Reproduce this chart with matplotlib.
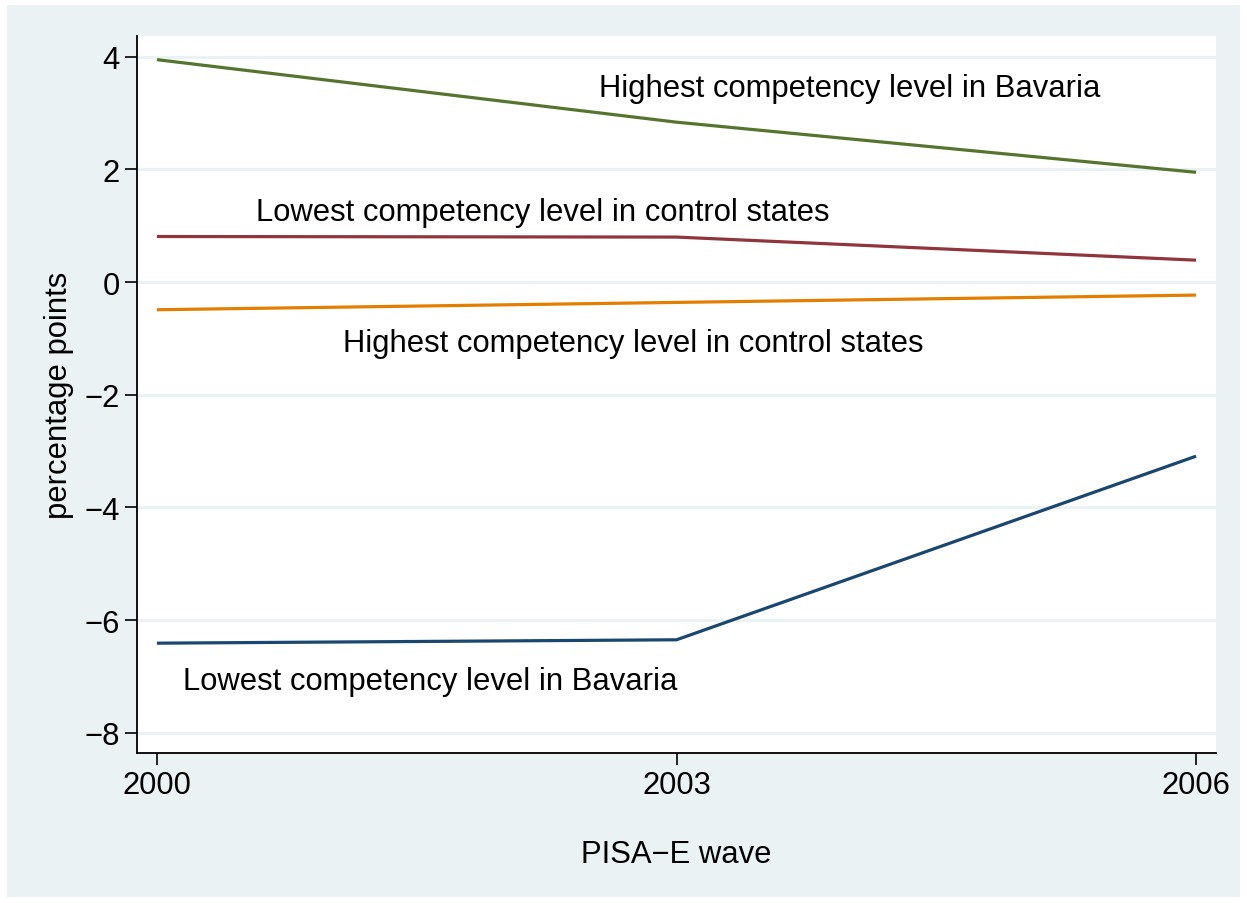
import matplotlib
matplotlib.use("Agg")
import matplotlib.pyplot as plt
from matplotlib.patches import Rectangle

plt.rcParams['font.family'] = ['Liberation Sans', 'DejaVu Sans']

years = [2000, 2003, 2006]
high_bavaria = [3.95, 2.84, 1.95]
low_control = [0.81, 0.80, 0.39]
high_control = [-0.49, -0.36, -0.23]
low_bavaria = [-6.41, -6.35, -3.09]

yticks = [4, 2, 0, -2, -4, -6, -8]
ytick_labels = ['4', '2', '0', '\u22122', '\u22124', '\u22126', '\u22128']

labels = {
    'high_bavaria': ("Highest competency level in Bavaria", 2004.0, 3.44),
    'low_control': ("Lowest competency level in control states", 2002.23, 1.24),
    'high_control': ("Highest competency level in control states", 2002.75, -1.08),
    'low_bavaria': ("Lowest competency level in Bavaria", 2001.58, -7.09),
}

FS = 22.3
W, H = 1247, 904
fig = plt.figure(figsize=(W / 100, H / 100), dpi=100, facecolor='white')
bg = '#EAF2F3'
fig.patches.append(Rectangle((7 / W, 6 / H), (1240 - 7) / W, (898 - 6) / H,
                             transform=fig.transFigure, facecolor=bg,
                             edgecolor='none', zorder=-10))

left, right, top, bottom = 137, 1216, 37, 754
ax = fig.add_axes([left / W, 1 - bottom / H, (right - left) / W, (bottom - top) / H])
ax.set_facecolor('white')

ax.plot(years, high_bavaria, color='#55752f', lw=2.3, solid_capstyle='butt', zorder=3)
ax.plot(years, low_control, color='#90353b', lw=2.3, solid_capstyle='butt', zorder=3)
ax.plot(years, high_control, color='#e37e00', lw=2.3, solid_capstyle='butt', zorder=3)
ax.plot(years, low_bavaria, color='#1a476f', lw=2.3, solid_capstyle='butt', zorder=3)

for key, (txt, x, y) in labels.items():
    ax.text(x, y, txt, ha='center', va='center', fontsize=FS, color='black')

ax.set_xlim(1999.885, 2006.115)
ax.set_ylim(-8.36, 4.37)
ax.set_xticks(years)
ax.set_xticklabels([str(y) for y in years])
ax.set_yticks(yticks)
ax.set_yticklabels(ytick_labels)
ax.tick_params(axis='both', direction='out', length=8.5, width=1.2, labelsize=FS, pad=4)

ax.grid(axis='y', color='#EAF2F3', lw=2.2, zorder=0)
ax.set_axisbelow(True)
for s in ['top', 'right']:
    ax.spines[s].set_visible(False)
for s in ['left', 'bottom']:
    ax.spines[s].set_linewidth(1.3)

ax.set_ylabel('percentage points', fontsize=FS, labelpad=7)
ax.set_xlabel('PISA\u2212E wave', fontsize=FS, labelpad=28)

fig.savefig('out.png', dpi=100, facecolor='white')
